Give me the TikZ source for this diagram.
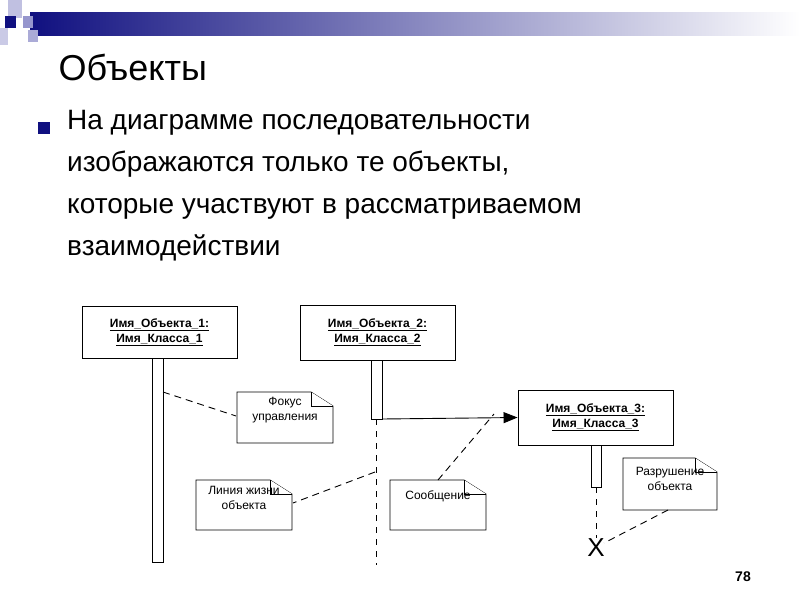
\documentclass[tikz,border=0pt]{standalone}
\usepackage{fontspec}
\setmainfont{Liberation Sans}
\usetikzlibrary{arrows.meta}
\definecolor{navy}{RGB}{16,16,128}
\definecolor{lav}{RGB}{150,150,205}
\tikzset{
 objbox/.style={draw,line width=0.9pt,fill=white,minimum width=155pt,minimum height=52pt,align=center,font=\fontsize{12}{15}\selectfont\bfseries},
 bar/.style={draw,line width=0.9pt,fill=white},
 note/.style={draw,line width=0.8pt,fill=white},
 notetext/.style={align=center,font=\fontsize{12}{15}\selectfont},
 dsh/.style={line width=0.9pt,dash pattern=on 7pt off 5pt}
}
\newcommand{\myul}[1]{\underline{#1}}
\newcommand{\notebox}[5]{%
 \draw[note] (#2,#3) -- (#4-22,#3) -- (#4,#3+14) -- (#4,#5) -- (#2,#5) -- cycle;
 \draw[note] (#4-22,#3) -- (#4-22,#3+14) -- (#4,#3+14);
 \coordinate (#1) at ({(#2+#4)/2},{(#3+#5)/2});}
\begin{document}
\begin{tikzpicture}[x=1pt,y=-1pt]
\useasboundingbox (0,0) rectangle (800,600);
\fill[white] (0,0) rectangle (800,600);
\shade[left color=navy,right color=white] (30,12) rectangle (800,35);
\fill[lav!60] (8,0) rectangle (22,18);
\fill[navy] (5,16) rectangle (16,28);
\fill[lav] (23,16) rectangle (33,28);
\fill[lav!80] (28,30) rectangle (38,42);
\fill[lav!50] (0,28) rectangle (8,45);
\node[anchor=base west,font=\fontsize{36}{40}\selectfont] (title) at (55,80) {Объекты};
\fill[navy] (38,122) rectangle (50,134);
\node[anchor=north west,align=left,inner sep=0pt,font=\fontsize{28}{42}\selectfont] (body) at (67,110) {На диаграмме последовательности\\изображаются только те объекты,\\которые участвуют в рассматриваемом\\взаимодействии};
\node[objbox] (o1) at (159.5,332) {\myul{Имя\_Объекта\_1:}\\\myul{Имя\_Класса\_1}};
\node[objbox,minimum height=55pt] (o2) at (377.5,332.5) {\myul{Имя\_Объекта\_2:}\\\myul{Имя\_Класса\_2}};
\node[objbox,minimum height=55pt] (o3) at (595.5,417.5) {\myul{Имя\_Объекта\_3:}\\\myul{Имя\_Класса\_3}};
\draw[bar] (152,358) rectangle (163,562);
\draw[bar] (371,360) rectangle (382,419);
\draw[bar] (591,445) rectangle (601,487);
\coordinate (l2a) at (376,419);
\coordinate (l2b) at (376,565);
\draw[line width=0.9pt,dash pattern=on 6pt off 6pt] (l2a) -- (l2b);
\coordinate (msgs) at (382,419);
\draw[line width=0.9pt,-{Triangle[length=14pt,width=11pt]}] (msgs) -- (o3.west);
\coordinate (l3) at (596,487);
\coordinate (xx) at (596,548);
\coordinate (l3e) at (596,538);
\draw[line width=0.9pt,dash pattern=on 6pt off 6pt] (l3) -- (l3e);
\node[font=\fontsize{26}{26}\selectfont,inner sep=0pt] (x) at (xx) {X};
\notebox{n1}{237}{392}{333}{443}
\node[notetext] (t1) at ([yshift=7]n1) {Фокус\\управления};
\notebox{n2}{196}{480}{292}{530}
\node[notetext] (t2) at ([yshift=7]n2) {Линия жизни\\объекта};
\notebox{n3}{390}{480}{486}{530}
\node[notetext] (t3) at ([yshift=9]n3) {Сообщение};
\notebox{n4}{623}{458}{717}{510}
\node[notetext] (t4) at ([yshift=5]n4) {Разрушение\\объекта};
\coordinate (c1a) at (163,392); \coordinate (c1b) at (236,416);
\draw[dsh] (c1a) -- (c1b);
\coordinate (c2a) at (375,472); \coordinate (c2b) at (293,503);
\draw[dsh] (c2a) -- (c2b);
\coordinate (c3a) at (438,480); \coordinate (c3b) at (494,414);
\draw[dsh] (c3a) -- (c3b);
\coordinate (c4a) at (668,510); \coordinate (c4b) at (604,543);
\draw[dsh] (c4a) -- (c4b);
\node[font=\fontsize{14}{14}\selectfont\bfseries] (pg) at (743,577) {78};
\end{tikzpicture}
\end{document}
